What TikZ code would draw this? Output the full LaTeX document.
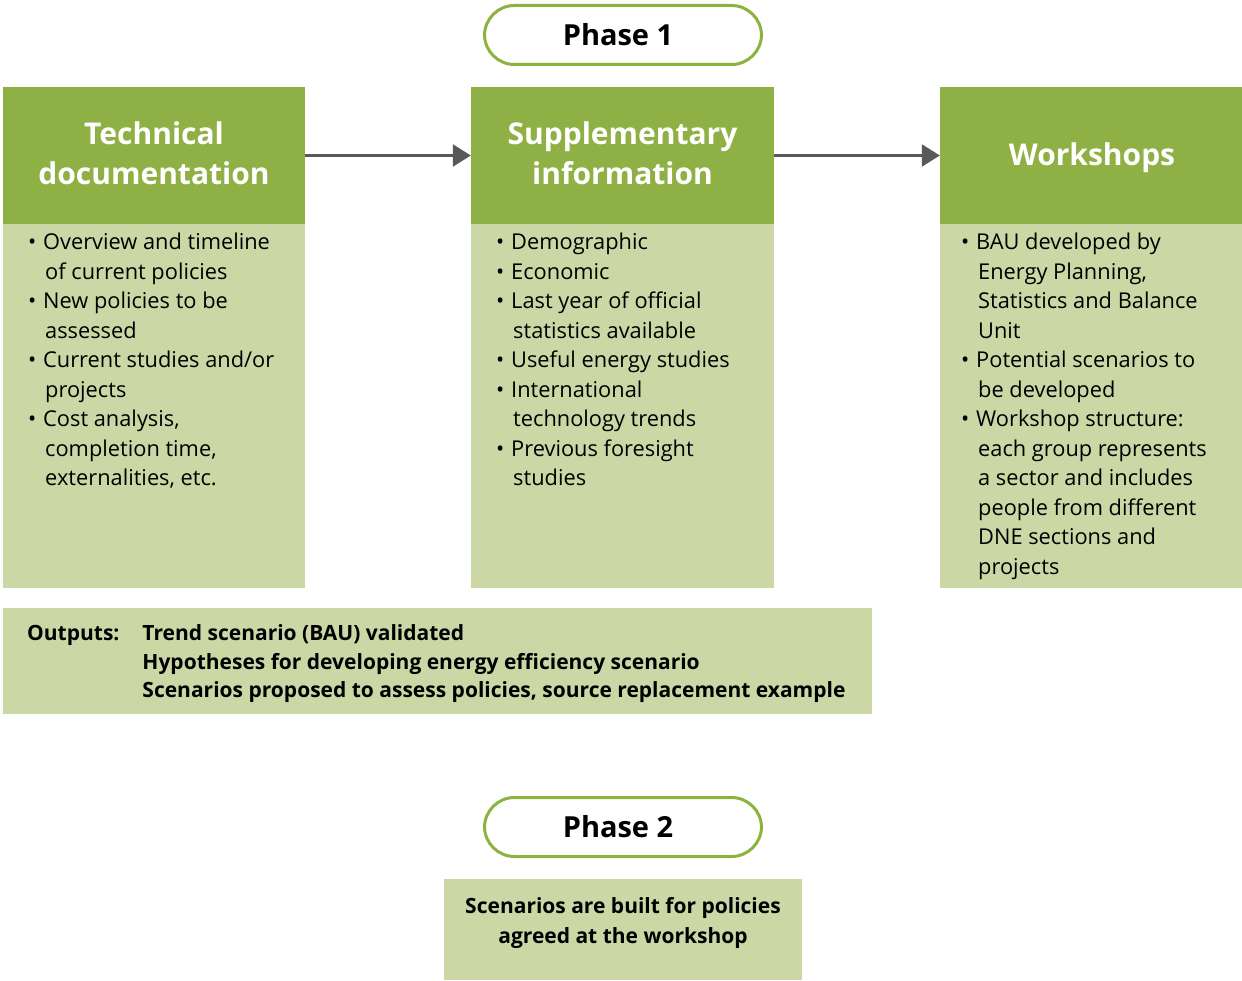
\documentclass[tikz,border=0pt]{standalone}
\usepackage{fontspec}
\setmainfont{Open Sans}
\usetikzlibrary{arrows.meta}
\definecolor{hdr}{HTML}{8FB044}
\definecolor{bdy}{HTML}{CCD7A6}
\definecolor{rim}{HTML}{8DB33F}
\definecolor{arr}{HTML}{595959}
\newcommand{\bli}[1]{\makebox[15pt][l]{\textbullet}#1}
\newcommand{\cli}[1]{\hspace*{17pt}#1}
\begin{document}
\begin{tikzpicture}[x=1pt,y=-1pt,
  hdrbox/.style={fill=hdr,draw=none,inner sep=0pt},
  hdrtext/.style={inner sep=0pt,text=white,align=center,
    font=\fontsize{30}{40}\selectfont\bfseries},
  bdybox/.style={fill=bdy,draw=none,inner sep=0pt},
  bodytext/.style={inner sep=0pt,align=left,anchor=north west,
    font=\fontsize{21.8}{29.5}\selectfont},
  phasebox/.style={draw=rim,line width=3pt,rounded corners=30pt,fill=white,
    minimum width=277pt,minimum height=59pt,inner sep=0pt,
    font=\fontsize{29}{34}\selectfont\bfseries},
  flowarrow/.style={draw=arr,line width=2.5pt,-{Triangle[length=18pt,width=22pt]}}]
\useasboundingbox (0,0) rectangle (1242,981);

% Phase 1
\node[phasebox] (p1) at (623,35) {Phase 1\hspace*{10pt}};

% column boxes
\node[bdybox,minimum width=302pt,minimum height=364pt] (b1) at (154,406) {};
\node[bdybox,minimum width=303pt,minimum height=364pt] (b2) at (622.5,406) {};
\node[bdybox,minimum width=302pt,minimum height=364pt] (b3) at (1091,406) {};

\node[hdrbox,minimum width=302pt,minimum height=137pt] (h1) at (154,155.5) {};
\node[hdrbox,minimum width=303pt,minimum height=137pt] (h2) at (622.5,155.5) {};
\node[hdrbox,minimum width=302pt,minimum height=137pt] (h3) at (1091,155.5) {};

\node[hdrtext] (h1t) at (154,153) {Technical\\documentation};
\node[hdrtext] (h2t) at (622.5,153) {Supplementary\\information};
\node[hdrtext] (h3t) at (1092,158) {Workshops};

\draw[flowarrow] (h1.east) -- (h2.west);
\draw[flowarrow] (h2.east) -- (h3.west);

% body texts
\node[bodytext] (t1) at (28,233) {\bli{Overview and timeline}\\
\cli{of current policies}\\
\bli{New policies to be}\\
\cli{assessed}\\
\bli{Current studies and/or}\\
\cli{projects}\\
\bli{Cost analysis,}\\
\cli{completion time,}\\
\cli{externalities, etc.}};

\node[bodytext] (t2) at (496,233) {\bli{Demographic}\\
\bli{Economic}\\
\bli{Last year of official}\\
\cli{statistics available}\\
\bli{Useful energy studies}\\
\bli{International}\\
\cli{technology trends}\\
\bli{Previous foresight}\\
\cli{studies}};

\node[bodytext] (t3) at (961,233) {\bli{BAU developed by}\\
\cli{Energy Planning,}\\
\cli{Statistics and Balance}\\
\cli{Unit}\\
\bli{Potential scenarios to}\\
\cli{be developed}\\
\bli{Workshop structure:}\\
\cli{each group represents}\\
\cli{a sector and includes}\\
\cli{people from different}\\
\cli{DNE sections and}\\
\cli{projects}};

% outputs
\node[bdybox,minimum width=869pt,minimum height=106pt] (out) at (437.5,661) {};
\node[bodytext,font=\fontsize{21}{29}\selectfont\bfseries] (outt) at (27,620)
 {\begin{tabular}{@{}l@{\hspace{23pt}}l@{}}
 Outputs: & Trend scenario (BAU) validated\\[-0.5pt]
  & Hypotheses for developing energy efficiency scenario\\[-0.5pt]
  & Scenarios proposed to assess policies, source replacement example
 \end{tabular}};

% Phase 2
\node[phasebox] (p2) at (623,827) {Phase 2\hspace*{10pt}};
\node[bdybox,minimum width=358pt,minimum height=101pt] (fin) at (623,929.5) {};
\node[align=center,inner sep=0pt,
  font=\fontsize{21}{30}\selectfont\bfseries] (fint) at (623,923)
  {Scenarios are built for policies\\agreed at the workshop};

\end{tikzpicture}
\end{document}
